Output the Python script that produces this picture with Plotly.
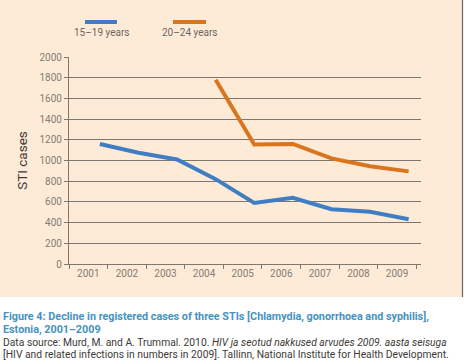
import plotly.graph_objects as go

years = [2001, 2002, 2003, 2004, 2005, 2006, 2007, 2008, 2009]
cases_15_19 = [1160, 1075, 1010, 820, 590, 640, 530, 505, 432]
years_20_24 = [2004, 2005, 2006, 2007, 2008, 2009]
cases_20_24 = [1780, 1155, 1160, 1020, 945, 895]
y_ticks = [0, 200, 400, 600, 800, 1000, 1200, 1400, 1600, 1800, 2000]
x_tick_labels = [str(y) for y in years]

W, H = 464, 361
L, R, T, B = 69, 43, 57, 97
PW, PH = W - L - R, H - T - B

def px(x):
    return (x - L) / PW

def py(y):
    return (H - B - y) / PH

BLUE = "#3f7ec2"
ORANGE = "#d9751d"
PEACH = "#fdebd8"
GRID = "#7f776e"
TICK = "#847b72"
TEAL = "#4593bf"
FONT = "Roboto"

fig = go.Figure()
fig.add_trace(go.Scatter(x=years, y=cases_15_19, mode="lines", name="15–19 years",
                         line=dict(color=BLUE, width=4), showlegend=False))
fig.add_trace(go.Scatter(x=years_20_24, y=cases_20_24, mode="lines", name="20–24 years",
                         line=dict(color=ORANGE, width=4), showlegend=False))

shapes = [
    dict(type="rect", xref="paper", yref="paper", x0=px(-1), x1=px(463), y0=py(297), y1=py(-1),
         fillcolor=PEACH, line=dict(width=0), layer="below"),
    dict(type="line", xref="paper", yref="paper", x0=px(462.5), x1=px(462.5), y0=py(297), y1=py(0),
         line=dict(color="#6d665f", width=1.2)),
    dict(type="line", xref="paper", yref="paper", x0=px(85), x1=px(117), y0=py(22), y1=py(22),
         line=dict(color=BLUE, width=4)),
    dict(type="line", xref="paper", yref="paper", x0=px(173), x1=px(206), y0=py(22), y1=py(22),
         line=dict(color=ORANGE, width=4)),
]

annotations = [
    dict(text="15–19 years", xref="paper", yref="paper", x=px(101), y=py(33),
         showarrow=False, xanchor="center", yanchor="middle",
         font=dict(family=FONT, size=10, color="#6f675f")),
    dict(text="20–24 years", xref="paper", yref="paper", x=px(189), y=py(33),
         showarrow=False, xanchor="center", yanchor="middle",
         font=dict(family=FONT, size=10, color="#6f675f")),
    dict(text="<b>Figure 4: Decline in registered cases of three STIs [Chlamydia, gonorrhoea and syphilis],</b>",
         xref="paper", yref="paper", x=px(1), y=py(316), showarrow=False,
         xanchor="left", yanchor="middle", font=dict(family=FONT, size=10.8, color=TEAL)),
    dict(text="<b>Estonia, 2001–2009</b>",
         xref="paper", yref="paper", x=px(1), y=py(329), showarrow=False,
         xanchor="left", yanchor="middle", font=dict(family=FONT, size=10.8, color=TEAL)),
    dict(text="Data source: Murd, M. and A. Trummal. 2010. <i>HIV ja seotud nakkused arvudes 2009. aasta seisuga</i>",
         xref="paper", yref="paper", x=px(1), y=py(342), showarrow=False,
         xanchor="left", yanchor="middle", font=dict(family=FONT, size=10.3, color="#3d3a37")),
    dict(text="[HIV and related infections in numbers in 2009]. Tallinn, National Institute for Health Development.",
         xref="paper", yref="paper", x=px(1), y=py(354), showarrow=False,
         xanchor="left", yanchor="middle", font=dict(family=FONT, size=10.3, color="#3d3a37")),
]

fig.update_layout(
    template="none",
    width=W, height=H,
    margin=dict(l=L, r=R, t=T, b=B, pad=0, autoexpand=False),
    paper_bgcolor="white",
    plot_bgcolor="rgba(0,0,0,0)",
    shapes=shapes,
    annotations=annotations,
    showlegend=False,
    font=dict(family=FONT, size=10, color=TICK),
)

fig.update_xaxes(
    type="linear", range=[2000.2, 2009.32], automargin=False,
    tickvals=[y - 0.3 for y in years], ticktext=x_tick_labels,
    ticks="", showgrid=False, zeroline=False,
    showline=True, linecolor=GRID, linewidth=1.2,
    tickfont=dict(family=FONT, size=10, color=TICK),
    minor=dict(tick0=2000.2, dtick=1, ticks="outside", ticklen=4, tickcolor=GRID, tickwidth=1.2, showgrid=False),
)
fig.update_yaxes(
    range=[0, 2000], tickvals=y_ticks, automargin=False,
    ticks="outside", ticklen=4, tickcolor=GRID, tickwidth=1.2,
    showgrid=True, gridcolor=GRID, gridwidth=1.2, zeroline=False,
    showline=True, linecolor=GRID, linewidth=1.2,
    tickfont=dict(family=FONT, size=10, color=TICK),
    title=dict(text="STI cases", font=dict(family=FONT, size=13.5, color="#3f3a35"), standoff=8),
)

fig.write_html("out.html", config={"displayModeBar": False},
               post_script="document.body.style.margin='0';document.body.style.overflow='hidden';")
